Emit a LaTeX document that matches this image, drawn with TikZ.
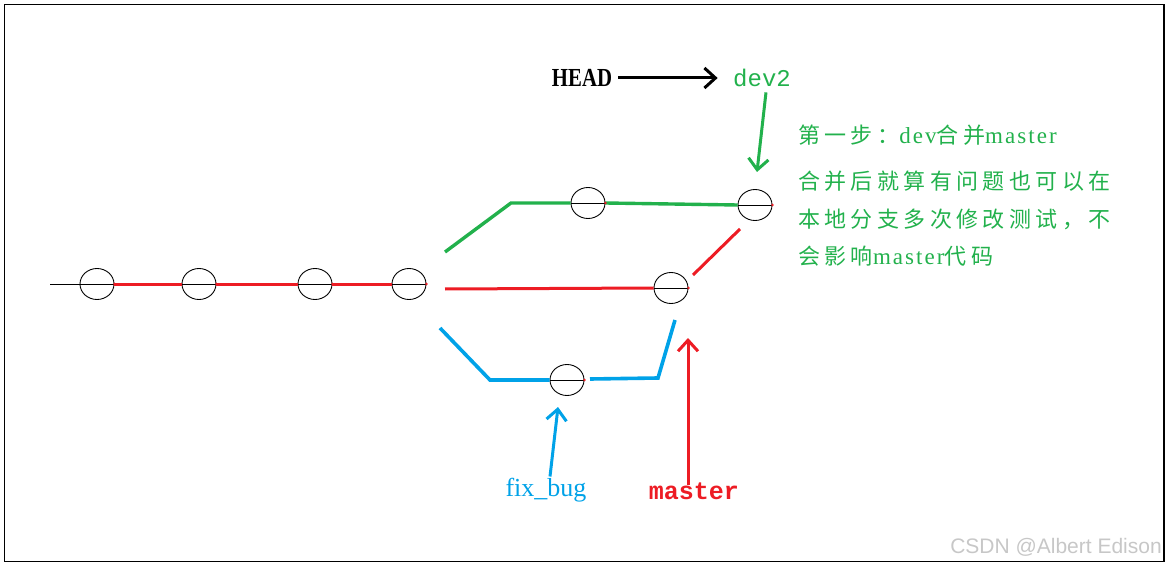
\documentclass[tikz,border=0pt]{standalone}
\usepackage{fontspec}
\setmainfont{Liberation Serif}
\newfontfamily\cjk[LetterSpace=20]{Noto Sans CJK SC}
\newfontfamily\latsp[LetterSpace=9]{Liberation Serif}
\newfontfamily\monof{Liberation Mono}
\newfontfamily\wmfont{Liberation Sans}
\usetikzlibrary{shapes.geometric,arrows.meta}
\definecolor{pgreen}{RGB}{34,177,76}
\definecolor{pred}{RGB}{237,28,36}
\definecolor{pblue}{RGB}{0,162,232}
\tikzset{
  commit/.style={draw=black, line width=0.9pt, ellipse, minimum width=34pt, minimum height=31pt, inner sep=0pt},
  redl/.style={draw=pred, line width=3pt},
  greenl/.style={draw=pgreen, line width=3.4pt},
  bluel/.style={draw=pblue, line width=3.6pt},
  ptr/.style={line width=3pt, -{Straight Barb[length=11pt,width=20pt,line width=3pt]}},
  note/.style={anchor=west, text=pgreen, inner sep=0pt},
}
\newcommand{\diam}[1]{\draw[black, line width=0.8pt] (#1.west) -- (#1.east); \fill[pred] (#1.east) circle (1.3pt);}
\begin{document}
\begin{tikzpicture}[x=1pt,y=-1pt]
\useasboundingbox (0,0) rectangle (1168,567);
\draw[black, line width=1.2pt] (4.5,4.5) rectangle (1164,561.5);

% commits
\node[commit] (c1) at (97,284) {};
\node[commit] (c2) at (199,284) {};
\node[commit] (c3) at (315,284) {};
\node[commit] (c4) at (409,284) {};
\node[commit] (m) at (671,288) {};
\node[commit] (d1) at (588,203) {};
\node[commit] (d2) at (755,205) {};
\node[commit] (f) at (567,380) {};

% free ends
\coordinate (s0) at (50,284);
\coordinate (r0) at (445,289);
\coordinate (r1) at (693,275);
\coordinate (r2) at (740,229);
\coordinate (g0) at (445,252);
\coordinate (g1) at (511,203);
\coordinate (b0) at (440,328);
\coordinate (b1) at (490,380);
\coordinate (b2) at (590,379);
\coordinate (b3) at (658,378);
\coordinate (b4) at (675,320);

% main line
\draw[black, line width=0.8pt] (s0) -- (c1.west);
\draw[redl] (c1.east) -- (c2.west);
\draw[redl] (c2.east) -- (c3.west);
\draw[redl] (c3.east) -- (c4.west);
% master branch
\draw[redl] (r0) -- (m.west);
\draw[redl] (r1) -- (r2);
% dev2 branch
\draw[greenl] (g0) -- (g1) -- (d1.west);
\draw[greenl] (d1.east) -- (d2.west);
% fix_bug branch
\draw[bluel] (b0) -- (b1) -- (f.west);
\draw[bluel] (b2) -- (b3) -- (b4);

\diam{c1}\diam{c2}\diam{c3}\diam{c4}\diam{m}\diam{d1}\diam{d2}\diam{f}

% labels
\node[font=\fontsize{26}{28}\selectfont\bfseries, text=black, inner sep=2pt] (head) at (582,78) {\scalebox{0.8}[1]{HEAD}};
\node[font=\monof\fontsize{24}{28}\selectfont, text=pgreen] (dev2) at (762,78) {dev2};
\node[font=\fontsize{26}{28}\selectfont, text=pblue] (fix) at (546,490) {fix\_bug};
\node[font=\monof\fontsize{25}{28}\selectfont\bfseries, text=pred] (mast) at (694,491) {master};
\coordinate (dtip) at (757,172);
\coordinate (ftip) at (558,407);
\coordinate (mtip) at (688,338);

\draw[ptr, black] ([xshift=4pt]head.east) -- ([xshift=-12pt]dev2.west);
\draw[ptr, pgreen] ([xshift=4pt,yshift=-2pt]dev2.south) -- (dtip);
\draw[ptr, pblue] ([xshift=4pt,yshift=-2pt]fix.north) -- (ftip);
\draw[ptr, pred] ([xshift=-6pt,yshift=-6pt]mast.north) -- (mtip);

% notes
\node[note] (n1) at (798,135) {\fontsize{22}{24}\selectfont{\cjk 第一步：}{\latsp\fontsize{23}{24}\selectfont dev}{\cjk 合并}{\latsp\fontsize{23}{24}\selectfont master}};
\node[note] (n2) at (798,181) {\fontsize{22}{24}\selectfont\cjk 合并后就算有问题也可以在};
\node[note] (n3) at (798,219) {\fontsize{22}{24}\selectfont\cjk 本地分支多次修改测试，不};
\node[note] (n4) at (798,256) {\fontsize{22}{24}\selectfont{\cjk 会影响}{\latsp\fontsize{23}{24}\selectfont master}{\cjk 代码}};

% watermark
\node[anchor=east, inner sep=0pt, text=black!22, font=\wmfont\fontsize{21}{24}\selectfont] (wm) at (1162,547) {CSDN @Albert Edison};
\end{tikzpicture}
\end{document}
